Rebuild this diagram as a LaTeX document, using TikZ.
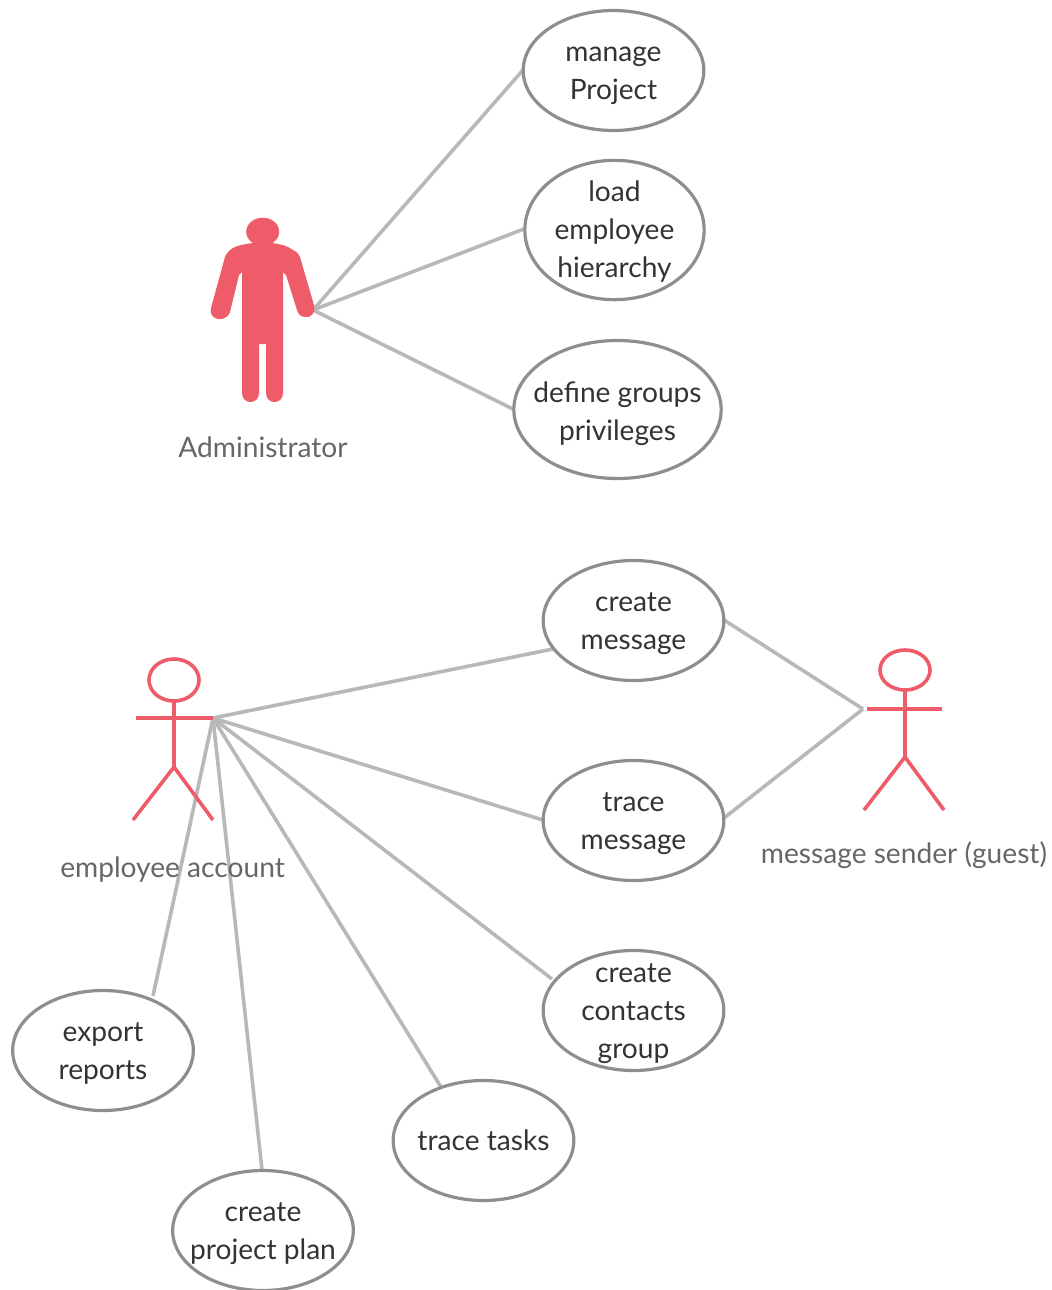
\documentclass[tikz,border=0pt]{standalone}
\usepackage{fontspec}
\setmainfont{Lato}
\usetikzlibrary{shapes.geometric}
\definecolor{ucline}{HTML}{B8B8B8}
\definecolor{ucborder}{HTML}{8E8E8E}
\definecolor{actorred}{HTML}{EE5C6A}
\definecolor{txt}{HTML}{333333}
\definecolor{lab}{HTML}{666666}
\newcommand{\uctext}[2][-7.2pt]{\makebox[0pt][c]{\smash{\raisebox{#1}{\begin{tabular}{@{}c@{}}#2\end{tabular}}}}}
\tikzset{x=0.75pt,y=-0.75pt,
 uc/.style={ellipse,draw=ucborder,line width=2.4pt,fill=white,inner sep=0pt,text=txt,font=\fontsize{21.1pt}{28.5pt}\selectfont},
 link/.style={draw=ucline,line width=2.7pt},
 stick/.style={draw=actorred,line width=2.7pt},
 actorlabel/.style={text=lab,font=\fontsize{21.1pt}{24pt}\selectfont,inner sep=0pt,anchor=base}}
\begin{document}
\begin{tikzpicture}
\useasboundingbox (0,0) rectangle (1051,1290);
% connector hubs
\coordinate (admhub) at (313,310);
\coordinate (emphub) at (213,718);
\coordinate (guesthub) at (863,709);
\coordinate (a1) at (523,70);
\coordinate (a2) at (524,229);
\coordinate (a3) at (513,409);
\coordinate (e1) at (553,649);
\coordinate (e2) at (543,820);
\coordinate (e3) at (552,979);
\coordinate (e4) at (441,1087);
\coordinate (e5) at (262,1170);
\coordinate (e6) at (153,996);
\coordinate (g1) at (724,620);
\coordinate (g2) at (724,818);
\draw[link] (admhub)--(a1);
\draw[link] (admhub)--(a2);
\draw[link] (admhub)--(a3);
\draw[link] (emphub)--(e1);
\draw[link] (emphub)--(e2);
\draw[link] (emphub)--(e3);
\draw[link] (emphub)--(e4);
\draw[link] (emphub)--(e5);
\draw[link] (emphub)--(e6);
\draw[link] (guesthub)--(g1);
\draw[link] (guesthub)--(g2);
% use cases
\node[uc,minimum width=135.5pt,minimum height=90pt] (manage) at (613.5,70.5) {\uctext{manage\\Project}};
\node[uc,minimum width=134.5pt,minimum height=104.5pt] (load) at (614.5,230) {\uctext[-6.6pt]{load\\employee\\hierarchy}};
\node[uc,minimum width=155.5pt,minimum height=103.5pt] (define) at (617.5,409.5) {\uctext[-8.6pt]{define groups\\privileges}};
\node[uc,minimum width=135.5pt,minimum height=90pt] (cmsg) at (633.5,620.5) {\uctext{create\\message}};
\node[uc,minimum width=135.5pt,minimum height=90pt] (tmsg) at (633.5,820.5) {\uctext{trace\\message}};
\node[uc,minimum width=135.5pt,minimum height=90pt] (cgrp) at (633.5,1010.5) {\uctext{create\\contacts\\group}};
\node[uc,minimum width=135.5pt,minimum height=90pt] (ttask) at (483.5,1140.5) {\uctext{trace tasks}};
\node[uc,minimum width=135.5pt,minimum height=90pt] (cplan) at (263,1230.5) {\uctext{create\\project plan}};
\node[uc,minimum width=135.5pt,minimum height=90pt] (exprep) at (103,1050.5) {\uctext{export\\reports}};
% administrator figure
\fill[actorred] (262.7,231.7) ellipse[x radius=16.5,y radius=14];
\fill[actorred] (253,243) -- (272,243) .. controls (280,244) and (288,246) .. (293,250)
 .. controls (297,252) and (299,254) .. (300,257) -- (314,305)
 .. controls (316,314) and (310,318) .. (305,317) .. controls (300,317) and (298,313) .. (297,310)
 -- (286,275) -- (283,272) -- (283,393) .. controls (283,405) and (266,405) .. (266,393)
 -- (266,344) -- (259,344) -- (259,393) .. controls (259,405) and (242,405) .. (242,393)
 -- (242,272) -- (239,275) -- (230,312) .. controls (227,320) and (219,320) .. (215,318)
 .. controls (211,316) and (210,311) .. (211,308) -- (225,257)
 .. controls (226,254) and (229,250) .. (233,248) .. controls (238,245) and (246,244) .. (253,243) -- cycle;
% stick figures
\draw[stick] (174,680) circle[x radius=25,y radius=21];
\draw[stick] (174,701)--(174,767);
\draw[stick] (136,718)--(213,718);
\draw[stick] (133,820)--(174,767)--(213,820);
\draw[stick] (905,670) circle[x radius=25,y radius=20];
\draw[stick] (905,690)--(905,757);
\draw[stick] (867,709)--(942,709);
\draw[stick] (864,810)--(905,757)--(944,810);
% labels
\node[actorlabel] (admlab) at (263,457) {Administrator};
\node[actorlabel] (emplab) at (172.5,877) {employee account};
\node[actorlabel] (guestlab) at (904,863) {message sender (guest)};
\end{tikzpicture}
\end{document}
